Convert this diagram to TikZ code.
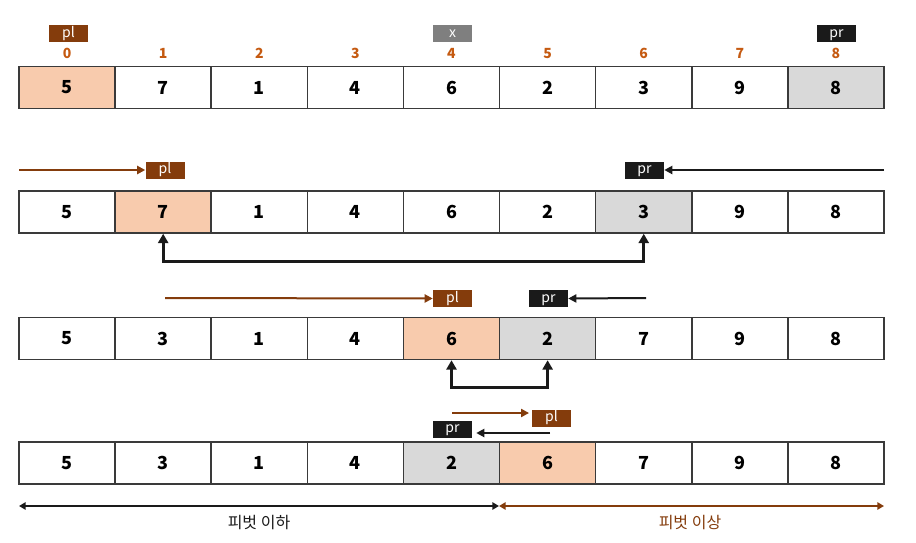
\documentclass[tikz,border=0pt]{standalone}
\usepackage{fontspec}
\setmainfont{Noto Sans CJK KR}
\usetikzlibrary{arrows.meta}
\definecolor{brn}{HTML}{843C0C}
\definecolor{peach}{HTML}{F8CBAD}
\definecolor{lgrey}{HTML}{D9D9D9}
\definecolor{mgrey}{HTML}{7F7F7F}
\definecolor{blk}{HTML}{1A1A1A}
\definecolor{idx}{HTML}{C55A11}
\definecolor{cellbd}{HTML}{3A3A3A}
\begin{document}
\begin{tikzpicture}[x=0.75pt,y=-0.75pt,
  cell/.style={draw=cellbd,line width=1.1pt,minimum width=72.1pt,minimum height=31.5pt,inner sep=0pt,font=\bfseries\fontsize{13.5}{13.5}\selectfont},
  tag/.style={minimum width=29.25pt,minimum height=12.75pt,inner sep=0pt,text height=0.78em,text depth=0.22em,text=white,font=\fontsize{10.5}{10.5}\selectfont},
  idxlbl/.style={text=idx,font=\bfseries\fontsize{10.5}{10.5}\selectfont,inner sep=0pt},
  ptr/.style={line width=1.5pt,-{Triangle[length=6pt,width=6pt]}},
  swaparrow/.style={line width=2.2pt,blk,{Triangle[length=7pt,width=7.5pt]}-{Triangle[length=7pt,width=7.5pt]}},
  rangearrow/.style={line width=1.5pt,{Triangle[length=5pt,width=5.5pt]}-{Triangle[length=5pt,width=5.5pt]}},
  lbl/.style={font=\fontsize{12}{12}\selectfont,inner sep=0pt}]
\useasboundingbox (0,0) rectangle (916,542);
% row 1
\foreach \v/\f [count=\i from 0] in {5/peach,7/white,1/white,4/white,6/white,2/white,3/white,9/white,8/lgrey}{
  \node[cell,fill=\f] (r1c\i) at ({67.06+96.11*\i},87.5) {\v};
  \node[idxlbl] (ix\i) at ({67.06+96.11*\i},53.5) {\i};
}
% row 2
\foreach \v/\f [count=\i from 0] in {5/white,7/peach,1/white,4/white,6/white,2/white,3/lgrey,9/white,8/white}{
  \node[cell,fill=\f] (r2c\i) at ({67.06+96.11*\i},212) {\v};
}
% row 3
\foreach \v/\f [count=\i from 0] in {5/white,3/white,1/white,4/white,6/peach,2/lgrey,7/white,9/white,8/white}{
  \node[cell,fill=\f] (r3c\i) at ({67.06+96.11*\i},338.5) {\v};
}
% row 4
\foreach \v/\f [count=\i from 0] in {5/white,3/white,1/white,4/white,2/lgrey,6/peach,7/white,9/white,8/white}{
  \node[cell,fill=\f] (r4c\i) at ({67.06+96.11*\i},463) {\v};
}
% row 1 tags
\node[tag,fill=brn] (pl1) at (68.5,33.5) {pl};
\node[tag,fill=mgrey] (x1) at (452.5,33.5) {x};
\node[tag,fill=blk] (pr1) at (836.5,33.5) {pr};
% row 2 tags and pointers
\node[tag,fill=brn] (pl2) at (165,170) {pl};
\node[tag,fill=blk] (pr2) at (644.5,170) {pr};
\coordinate (s2l) at (19,170);
\coordinate (s2r) at (884,170);
\draw[ptr,brn] (s2l) -- (pl2.west);
\draw[ptr,blk] (s2r) -- (pr2.east);
\draw[swaparrow] (r2c1.south) -- ++(0,28) -| (r2c6.south);
% row 3 tags and pointers
\node[tag,fill=brn] (pl3) at (452.5,298.5) {pl};
\node[tag,fill=blk] (pr3) at (548.5,298.5) {pr};
\coordinate (s3l) at (165,298);
\coordinate (s3r) at (646,298);
\draw[ptr,brn] (s3l) -- (pl3.west);
\draw[ptr,blk] (s3r) -- (pr3.east);
\draw[swaparrow] (r3c4.south) -- ++(0,27.5) -| (r3c5.south);
% row 4 tags and pointers
\node[tag,fill=brn] (pl4) at (551.5,418) {pl};
\node[tag,fill=blk] (pr4) at (452.5,429) {pr};
\coordinate (s4l) at (452,413);
\coordinate (s4r) at (550,433);
\draw[ptr,brn,shorten >=2pt] (s4l) -- (s4l -| pl4.west);
\draw[ptr,blk,shorten >=3pt] (s4r) -- (s4r -| pr4.east);
% range arrows
\coordinate (b0) at (19,506);
\coordinate (b1) at (499,506);
\coordinate (b2) at (884,506);
\draw[rangearrow,blk] (b0) -- (b1);
\draw[rangearrow,brn] (b1) -- (b2);
\node[lbl,text=blk] (lo) at (259,523) {피벗 이하};
\node[lbl,text=brn] (hi) at (690,523) {피벗 이상};
\end{tikzpicture}
\end{document}
